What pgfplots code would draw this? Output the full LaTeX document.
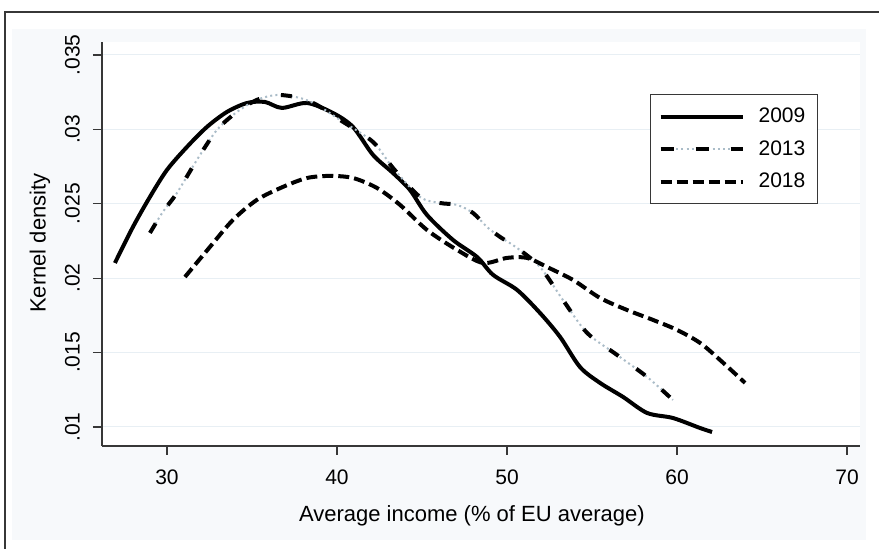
\documentclass[border=0pt]{standalone}
\usepackage{fontspec}
\setmainfont{Liberation Sans}
\usepackage{pgfplots}
\pgfplotsset{compat=1.18}
\definecolor{bgout}{RGB}{247,249,251}
\definecolor{gridc}{RGB}{232,239,244}
\definecolor{dotgray}{RGB}{170,188,200}
\definecolor{axc}{RGB}{55,55,55}
\begin{document}
\begin{tikzpicture}
\useasboundingbox (0,0) rectangle (439.5pt,274.5pt);
\clip (0,0) rectangle (439.5pt,274.5pt);
\fill[white] (0,0) rectangle (439.5pt,274.5pt);
\fill[bgout] (6pt,4.5pt) rectangle (433pt,260pt);
\draw[axc, line width=0.7pt] (2.5pt,-5pt) -- (2.5pt,268.5pt) -- (445pt,268.5pt);
\begin{axis}[
  at={(51pt,51.5pt)}, anchor=south west,
  scale only axis, width=379pt, height=202pt,
  xmin=26.18, xmax=70.76, ymin=0.00872, ymax=0.03587,
  scaled y ticks=false,
  axis lines=left, axis line style={-, axc, line width=0.6pt},
  axis background/.style={fill=white},
  xtick={30,40,50,60,70}, xticklabels={30,40,50,60,70},
  ytick={0.01,0.015,0.02,0.025,0.03,0.035},
  yticklabels={.01,.015,.02,.025,.03,.035},
  tick style={axc, line width=0.6pt}, major tick length=4.5pt, tick align=outside,
  ymajorgrids, grid style={gridc, line width=0.5pt},
  ticklabel style={font=\fontsize{10.5}{12}\selectfont},
  yticklabel style={rotate=90, anchor=south},
  xticklabel shift=4pt, yticklabel shift=3pt,
  every axis x label/.style={at={(axis description cs:0.488,-0.173)}, anchor=center},
  every axis y label/.style={at={(axis description cs:-0.0818,0.502)}, rotate=90, anchor=center},
  label style={font=\fontsize{11}{13}\selectfont},
  xlabel={Average income (\% of EU average)},
  ylabel={Kernel density},
  legend style={at={(0.723,0.871)}, anchor=north west, draw=axc, line width=0.6pt, fill=white,
    font=\fontsize{10.5}{12}\selectfont, inner xsep=4pt, inner ysep=4.5pt, row sep=3.5pt,
    column sep=5pt, cells={anchor=west}},
  legend image code/.code={\draw[#1] (0pt,0pt) -- (41pt,0pt);},
]
\addplot[black, line width=2pt, smooth] coordinates {
(26.94,0.02102) (28.00,0.02344) (29.00,0.02546) (30.00,0.02727) (31.18,0.02882)
(32.35,0.03016) (33.53,0.03117) (34.71,0.03177) (35.76,0.03184) (36.76,0.03144)
(38.24,0.03177) (39.76,0.03110) (40.94,0.03016) (42.12,0.02828) (43.29,0.02707)
(44.29,0.02593) (45.29,0.02425) (46.82,0.02257) (48.24,0.02142) (49.18,0.02022)
(50.59,0.01921) (51.94,0.01766) (53.12,0.01605) (54.29,0.01403) (55.47,0.01296)
(56.82,0.01202) (58.24,0.01094) (59.76,0.01060) (61.35,0.00993) (62.06,0.00966)
};
\addlegendentry{2009}
\addplot[dotgray, line width=1pt, dash pattern=on 1pt off 1.6pt, smooth, forget plot] coordinates {
(29.00,0.02304) (29.76,0.02445) (30.59,0.02573) (31.76,0.02794) (32.94,0.02996)
(34.12,0.03117) (35.29,0.03198) (36.47,0.03231) (37.82,0.03211) (38.82,0.03164)
(40.18,0.03063) (42.12,0.02915) (43.29,0.02741) (44.88,0.02546) (46.06,0.02505)
(47.06,0.02492) (48.00,0.02438) (48.82,0.02344) (49.59,0.02277) (50.59,0.02203)
(51.94,0.02075) (53.29,0.01853) (54.71,0.01632) (56.47,0.01484) (58.24,0.01336)
(59.76,0.01181)
};
\addplot[black, line width=2pt, dash pattern=on 5.5pt off 11pt, smooth,
  legend image code/.code={\draw[dotgray, line width=1pt, dash pattern=on 1pt off 1.6pt] (0pt,0pt) -- (41pt,0pt);
  \draw[black, line width=2pt, dash pattern=on 6.5pt off 11pt] (0pt,0pt) -- (41pt,0pt);}] coordinates {
(29.00,0.02304) (29.76,0.02445) (30.59,0.02573) (31.76,0.02794) (32.94,0.02996)
(34.12,0.03117) (35.29,0.03198) (36.47,0.03231) (37.82,0.03211) (38.82,0.03164)
(40.18,0.03063) (42.12,0.02915) (43.29,0.02741) (44.88,0.02546) (46.06,0.02505)
(47.06,0.02492) (48.00,0.02438) (48.82,0.02344) (49.59,0.02277) (50.59,0.02203)
(51.94,0.02075) (53.29,0.01853) (54.71,0.01632) (56.47,0.01484) (58.24,0.01336)
(59.76,0.01181)
};
\addlegendentry{2013}
\addplot[black, line width=2pt, dash pattern=on 5.5pt off 2.5pt, smooth] coordinates {
(31.06,0.02008) (32.53,0.02210) (33.88,0.02391) (35.29,0.02526) (36.82,0.02613)
(38.24,0.02673) (39.59,0.02687) (40.94,0.02673) (42.35,0.02606) (43.71,0.02492)
(45.29,0.02324) (47.06,0.02190) (48.59,0.02102) (50.00,0.02136) (51.18,0.02136)
(52.35,0.02075) (53.88,0.01988) (55.47,0.01867) (57.06,0.01786) (58.59,0.01719)
(60.00,0.01652) (61.35,0.01565) (62.53,0.01450) (64.00,0.01296)
};
\addlegendentry{2018}
\end{axis}
\end{tikzpicture}
\end{document}
